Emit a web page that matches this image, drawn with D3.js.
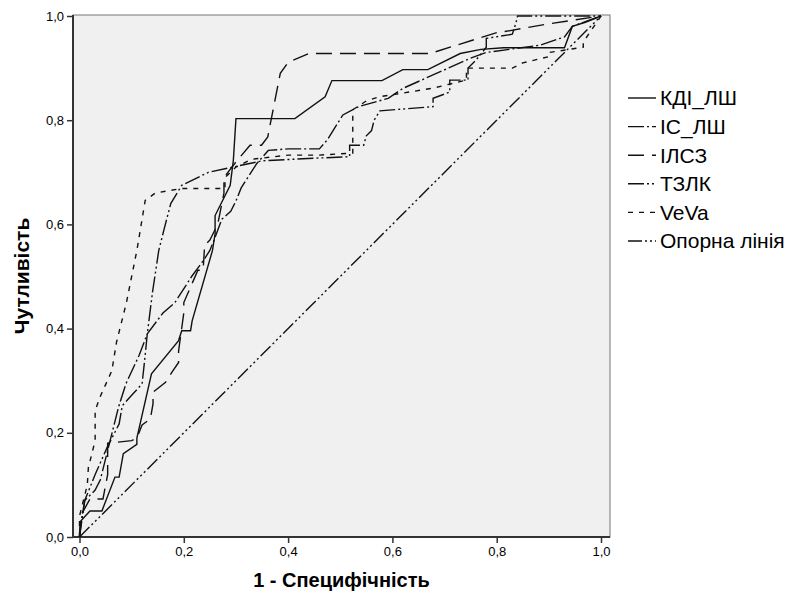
<!DOCTYPE html>
<html>
<head>
<meta charset="utf-8">
<script src="https://cdn.jsdelivr.net/npm/d3@7"></script>
<style>
  body { margin: 0; background: #fff; }
  text { font-family: "Liberation Sans", Arial, sans-serif; fill: #000; }
</style>
</head>
<body>
<div id="roc_chart"></div>
<script>
// ROC curves, points: [1 - specificity, sensitivity]
const kdiLsh = [[0,0],[0.002,0.03],[0.02,0.05],[0.043,0.05],[0.068,0.115],[0.076,0.115],[0.084,0.16],[0.11,0.178],[0.11,0.19],[0.138,0.313],[0.19,0.377],[0.196,0.396],[0.213,0.396],[0.216,0.415],[0.255,0.55],[0.26,0.582],[0.26,0.617],[0.289,0.675],[0.295,0.723],[0.30,0.803],[0.413,0.803],[0.471,0.845],[0.484,0.876],[0.58,0.876],[0.62,0.897],[0.668,0.897],[0.73,0.928],[0.77,0.936],[0.813,0.939],[0.93,0.939],[0.945,0.98],[0.97,0.988],[1,1]];
const isLsh = [[0,0],[0.005,0.04],[0.01,0.07],[0.03,0.09],[0.04,0.11],[0.055,0.17],[0.075,0.25],[0.089,0.294],[0.114,0.348],[0.13,0.39],[0.16,0.43],[0.183,0.45],[0.215,0.5],[0.237,0.53],[0.25,0.55],[0.26,0.575],[0.273,0.61],[0.29,0.625],[0.3,0.645],[0.31,0.67],[0.34,0.717],[0.362,0.742],[0.40,0.745],[0.46,0.745],[0.475,0.762],[0.505,0.81],[0.535,0.826],[0.592,0.842],[0.62,0.861],[0.75,0.919],[0.78,0.93],[0.883,0.944],[0.93,0.96],[0.945,0.98],[1,1]];
const ilsz = [[0,0],[0.002,0.04],[0.02,0.073],[0.045,0.073],[0.054,0.12],[0.054,0.18],[0.1,0.185],[0.11,0.19],[0.12,0.215],[0.136,0.227],[0.141,0.256],[0.141,0.278],[0.165,0.297],[0.177,0.316],[0.19,0.335],[0.19,0.357],[0.2,0.43],[0.2,0.45],[0.227,0.512],[0.237,0.512],[0.24,0.56],[0.25,0.57],[0.265,0.6],[0.277,0.66],[0.277,0.69],[0.3,0.72],[0.327,0.752],[0.349,0.752],[0.361,0.768],[0.385,0.89],[0.40,0.911],[0.44,0.928],[0.672,0.928],[0.723,0.944],[0.80,0.968],[0.826,0.972],[0.9,0.985],[1,1]];
const tzlk = [[0,0],[0.01,0.07],[0.03,0.12],[0.053,0.172],[0.076,0.217],[0.082,0.252],[0.1,0.272],[0.12,0.294],[0.125,0.34],[0.13,0.39],[0.14,0.47],[0.152,0.55],[0.162,0.59],[0.175,0.64],[0.196,0.675],[0.247,0.70],[0.294,0.71],[0.35,0.722],[0.45,0.727],[0.518,0.73],[0.518,0.752],[0.545,0.752],[0.55,0.77],[0.56,0.78],[0.565,0.80],[0.576,0.818],[0.678,0.826],[0.678,0.842],[0.71,0.854],[0.71,0.877],[0.745,0.877],[0.745,0.9],[0.76,0.915],[0.78,0.94],[0.78,0.957],[0.83,0.965],[0.837,0.987],[0.84,1],[1,1]];
const veva = [[0,0],[0,0.04],[0.005,0.06],[0.015,0.1],[0.017,0.133],[0.03,0.185],[0.03,0.242],[0.039,0.268],[0.062,0.319],[0.071,0.374],[0.09,0.45],[0.11,0.55],[0.126,0.646],[0.145,0.66],[0.196,0.669],[0.279,0.669],[0.279,0.69],[0.30,0.71],[0.33,0.725],[0.40,0.733],[0.46,0.733],[0.524,0.737],[0.524,0.75],[0.524,0.82],[0.55,0.837],[0.575,0.845],[0.62,0.852],[0.68,0.862],[0.742,0.877],[0.742,0.9],[0.83,0.9],[0.85,0.91],[0.90,0.922],[0.90,0.93],[0.966,0.94],[0.966,0.95],[1,1]];
const baseLine = [[0,0],[1,1]];

const seriesNames = ["КДІ_ЛШ", "ІС_ЛШ", "ІЛСЗ", "ТЗЛК", "VeVa", "Опорна лінія"];
const seriesData = [kdiLsh, isLsh, ilsz, tzlk, veva, baseLine];
const dashes = [null, "16,3,2,3", "16,8", "16,3,2,3,2,3", "5,6", "14,3,2,3,2,3,2,3"];

const xTicks = [0, 0.2, 0.4, 0.6, 0.8, 1.0];
const yTicks = [0, 0.2, 0.4, 0.6, 0.8, 1.0];

const width = 795, height = 597;
const frame = {left: 73, right: 610, top: 15, bottom: 537};

const x = d3.scaleLinear().domain([0, 1]).range([79.5, 601]);
const y = d3.scaleLinear().domain([0, 1]).range([537, 16]);

const svg = d3.select("#roc_chart").append("svg")
    .attr("width", width)
    .attr("height", height);

// plot background
svg.append("rect")
    .attr("x", frame.left).attr("y", frame.top)
    .attr("width", frame.right - frame.left)
    .attr("height", frame.bottom - frame.top)
    .attr("fill", "#f0f0f0")
    .attr("stroke", "#777")
    .attr("stroke-width", 1);

const fmt = d => d.toFixed(1).replace(".", ",");

// axes
const xAxis = svg.append("g")
    .attr("transform", "translate(0," + frame.bottom + ")")
    .call(d3.axisBottom(x).tickValues(xTicks).tickFormat(fmt).tickSize(6).tickPadding(4));
const yAxis = svg.append("g")
    .attr("transform", "translate(" + frame.left + ",0)")
    .call(d3.axisLeft(y).tickValues(yTicks).tickFormat(fmt).tickSize(6).tickPadding(3));

[xAxis, yAxis].forEach(g => {
    g.select(".domain").remove();
    g.selectAll(".tick line").attr("stroke", "#333").attr("stroke-width", 1.5);
    g.selectAll(".tick text")
        .style("font-family", '"Liberation Sans", Arial, sans-serif')
        .style("font-size", "13px")
        .attr("fill", "#222");
});

// darker left and bottom axis lines
svg.append("line")
    .attr("x1", frame.left).attr("x2", frame.left)
    .attr("y1", frame.top).attr("y2", frame.bottom)
    .attr("stroke", "#333").attr("stroke-width", 2);
svg.append("line")
    .attr("x1", frame.left).attr("x2", frame.right)
    .attr("y1", frame.bottom).attr("y2", frame.bottom)
    .attr("stroke", "#333").attr("stroke-width", 2);

// curves
const line = d3.line()
    .x(d => x(d[0]))
    .y(d => y(d[1]));

seriesData.forEach((data, i) => {
    svg.append("path")
        .datum(data)
        .attr("d", line)
        .attr("fill", "none")
        .attr("stroke", "#111")
        .attr("stroke-width", 1.4)
        .attr("stroke-dasharray", dashes[i]);
});

// axis titles
svg.append("text")
    .attr("x", (frame.left + frame.right) / 2)
    .attr("y", 587)
    .attr("text-anchor", "middle")
    .style("font-size", "20px")
    .style("font-weight", "bold")
    .text("1 - Специфічність");

svg.append("text")
    .attr("transform", "translate(29," + ((frame.top + frame.bottom) / 2) + ") rotate(-90)")
    .attr("text-anchor", "middle")
    .style("font-size", "21px")
    .style("font-weight", "bold")
    .text("Чутливість");

// legend
const legend = svg.append("g")
    .attr("transform", "translate(628,98)");

seriesNames.forEach((name, i) => {
    legend.append("line")
        .attr("x1", 0).attr("x2", 28)
        .attr("y1", i * 28.6).attr("y2", i * 28.6)
        .attr("stroke", "#111")
        .attr("stroke-width", 1.4)
        .attr("stroke-dasharray", dashes[i]);
    legend.append("text")
        .attr("x", 32)
        .attr("y", i * 28.6)
        .attr("dy", ".35em")
        .style("font-size", "21px")
        .text(name);
});
</script>
</body>
</html>
